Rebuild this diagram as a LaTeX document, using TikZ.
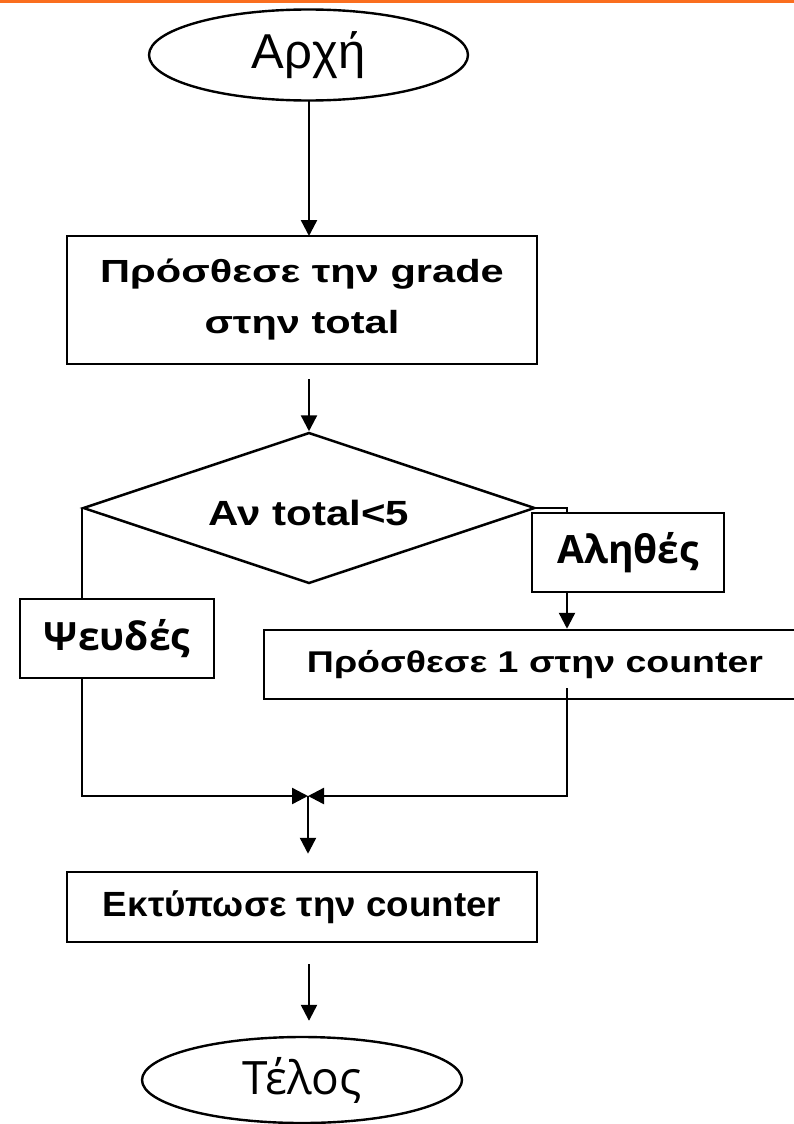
\documentclass[tikz,border=0pt]{standalone}
\usepackage{fontspec}
\setmainfont{Liberation Sans}
\newfontfamily\boxfont[FakeStretch=1.2]{Liberation Sans}
\newfontfamily\wideboxfont[FakeStretch=1.3]{Liberation Sans}
\newfontfamily\midboxfont[FakeStretch=1.25]{Liberation Sans}
\newfontfamily\plainboxfont[FakeStretch=1.05]{Liberation Sans}
\newfontfamily\capfont{Open Sans}
\usetikzlibrary{shapes.geometric,arrows.meta}
\definecolor{barorange}{RGB}{250,110,30}
\tikzset{
  line/.style={line width=2.4pt},
  arr/.style={line width=2.4pt,-{Triangle[length=16pt,width=16pt]}},
  shapebox/.style={draw,line width=2.5pt,inner sep=0pt,align=center},
  stepbox/.style={shapebox,rectangle},
  termbox/.style={shapebox,ellipse,line width=2.4pt},
  answerbox/.style={shapebox,rectangle,font=\capfont\bfseries\fontsize{39}{46}\selectfont},
}
\begin{document}
\begin{tikzpicture}[x=1pt,y=-1pt]
\useasboundingbox (0,0) rectangle (794,1124);
\fill[barorange] (0,0) rectangle (794,3.5);

% terminals
\node[termbox,minimum width=319pt,minimum height=91pt,font=\fontsize{49}{56}\selectfont]
  (start) at (308.5,55) {Αρχή};
\node[termbox,minimum width=320pt,minimum height=86pt,font=\capfont\fontsize{46}{52}\selectfont]
  (end) at (302,1080) {Τέλος};

% process steps
\node[stepbox,minimum width=470pt,minimum height=128pt,font=\wideboxfont\bfseries\fontsize{32}{51}\selectfont]
  (add) at (302,300) {Πρόσθεσε την grade\\στην total};
\node[shapebox,diamond,aspect=3,minimum width=452pt,minimum height=151pt,
      text height=34pt,text depth=0pt,font=\boxfont\bfseries\fontsize{35}{42}\selectfont]
  (test) at (309,508) {Αν total<5};
\node[answerbox,minimum width=192pt,minimum height=79pt] (yes) at (628,552.5) {Αληθές};
\node[answerbox,minimum width=194pt,minimum height=79pt] (no) at (117,638.5) {Ψευδές};
\node[stepbox,minimum width=542pt,minimum height=69pt,font=\midboxfont\bfseries\fontsize{30}{36}\selectfont]
  (inc) at (535,664.5) {Πρόσθεσε 1 στην counter};
\node[stepbox,minimum width=470pt,minimum height=70pt,font=\plainboxfont\bfseries\fontsize{35}{42}\selectfont]
  (print) at (302,907) {Εκτύπωσε την counter};

% junction points
\coordinate (yx) at (567,508);
\coordinate (incout) at (567,688);
\coordinate (merge) at (308,796);

% connectors
\draw[arr] (309,100) -- (309,236);
\draw[arr] (309,379) -- (test.north);
\draw[line] (test.east) -| (yx |- yes.north);
\draw[arr] (yx |- yes.south) -- (yx |- inc.north);
\draw[line] (test.west) -- (test.west |- no.north);
\draw[arr] (test.west |- no.south) |- (merge);
\draw[arr] (incout) |- (merge);
\draw[arr] (merge) -- ([yshift=17pt]merge |- print.north);
\draw[arr] ([yshift=-21pt]print.south -| 309,0) -- ([yshift=15pt]end.north -| 309,0);
\end{tikzpicture}
\end{document}
